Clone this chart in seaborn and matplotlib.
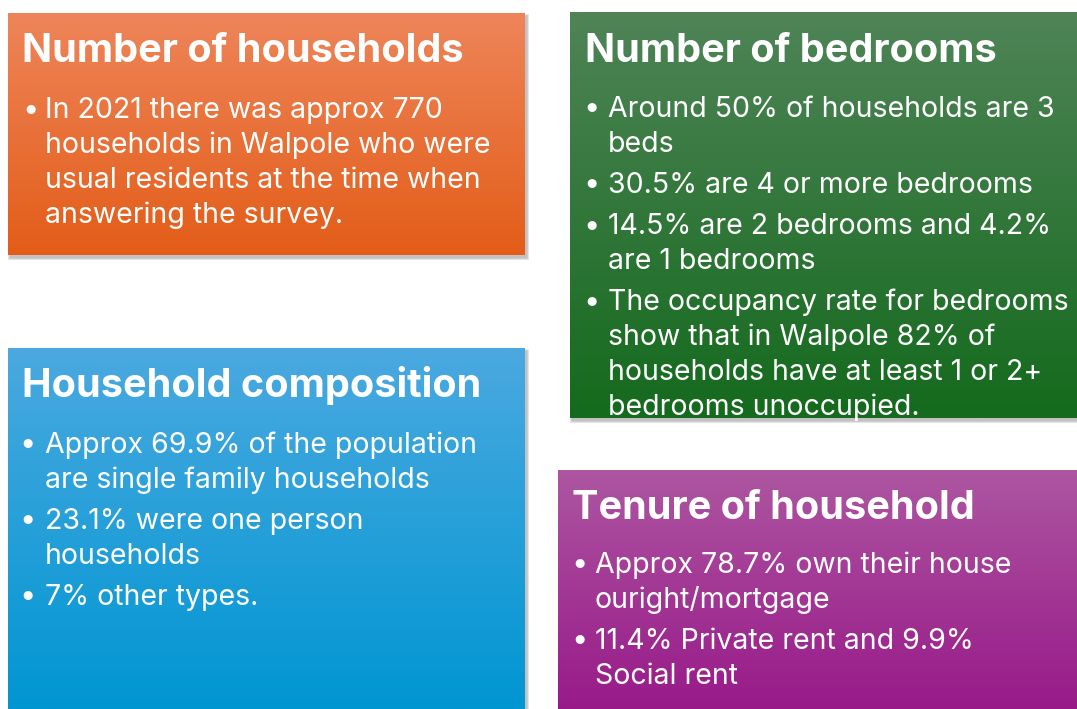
import numpy as np
import matplotlib.pyplot as plt
from matplotlib.colors import LinearSegmentedColormap
from matplotlib.patches import Rectangle
import seaborn as sns

sns.set_style("white")
plt.rcParams['font.family'] = ['Inter', 'DejaVu Sans']

# panel titles and bullet texts (wrapped as on the slide)
titles = ["Number of households", "Number of bedrooms",
          "Household composition", "Tenure of household"]

households_text = [["In 2021 there was approx 770",
                    "households in Walpole who were",
                    "usual residents at the time when",
                    "answering the survey."]]
bedrooms_text = [["Around 50% of households are 3", "beds"],
                 ["30.5% are 4 or more bedrooms"],
                 ["14.5% are 2 bedrooms and 4.2%", "are 1 bedrooms"],
                 ["The occupancy rate for bedrooms",
                  "show that in Walpole 82% of",
                  "households have at least 1 or 2+",
                  "bedrooms unoccupied."]]
composition_text = [["Approx 69.9% of the population", "are single family households"],
                    ["23.1% were one person", "households"],
                    ["7% other types."]]
tenure_text = [["Approx 78.7% own their house", "ouright/mortgage"],
               ["11.4% Private rent and 9.9%", "Social rent"]]

top_colors = ["#EE855A", "#4F8457", "#4BA9E0", "#AD56A1"]
bottom_colors = ["#E35D18", "#146A1D", "#0096D2", "#981A89"]

# layout in pixels: box, title x/baseline, bullet x, text x, first baseline
layout = [
    dict(box=(8, 13, 525, 255), tx=22, ty=62, bx=31, lx=45, y0=118),
    dict(box=(570, 12, 1077, 418), tx=585, ty=62, bx=592, lx=608, y0=117),
    dict(box=(8, 348, 525, 709), tx=22, ty=397, bx=28, lx=45, y0=453),
    dict(box=(558, 470, 1077, 709), tx=572, ty=519, bx=580, lx=595, y0=573),
]
bodies = [households_text, bedrooms_text, composition_text, tenure_text]

LINE = 35
PARA = 41

fig = plt.figure(figsize=(10.77, 7.09), dpi=100)
ax = fig.add_axes([0, 0, 1, 1])
ax.set_xlim(0, 1077)
ax.set_ylim(709, 0)
ax.axis('off')

grad = np.linspace(0, 1, 256).reshape(-1, 1)

for title, body, top, bottom, lay in zip(titles, bodies, top_colors, bottom_colors, layout):
    x0, y0, x1, y1 = lay['box']
    # soft drop shadow
    for k in range(5):
        ax.add_patch(Rectangle((x0 + 2 - k * 0.6, y0 + 3 - k * 0.6), x1 - x0 + k * 1.2, y1 - y0 + k * 1.2,
                               facecolor='black', edgecolor='none', alpha=0.05, zorder=1))
    cmap = LinearSegmentedColormap.from_list('grad', [top, bottom])
    ax.imshow(grad, cmap=cmap, extent=(x0, x1, y1, y0), aspect='auto', zorder=2)
    clip = Rectangle((x0, y0), x1 - x0, y1 - y0, transform=ax.transData, visible=False)
    ax.add_patch(clip)

    ax.text(lay['tx'], lay['ty'], title, color='white', fontsize=28.5, fontweight='bold',
            va='baseline', ha='left', zorder=3)

    y = lay['y0']
    for para in body:
        ax.text(lay['bx'], y - 8, "\u2022", color='white', fontsize=21,
                va='center', ha='center', zorder=3)
        for line in para:
            t = ax.text(lay['lx'], y, line, color='white', fontsize=20.5,
                        va='baseline', ha='left', zorder=3)
            t.set_clip_path(clip)
            y += LINE
        y += PARA - LINE

fig.savefig('out.png', dpi=100)
